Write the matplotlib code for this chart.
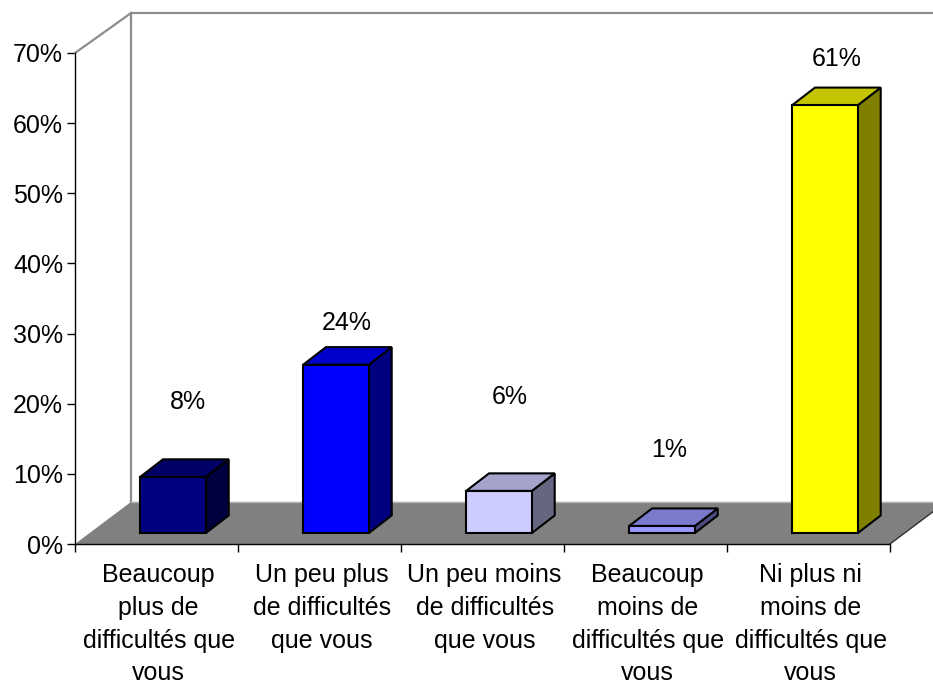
import matplotlib
matplotlib.use("Agg")
import matplotlib.pyplot as plt
from matplotlib.patches import Polygon

plt.rcParams['font.family'] = ['Liberation Sans', 'DejaVu Sans']

categories = [
    "Beaucoup\nplus de\ndifficultés que\nvous",
    "Un peu plus\nde difficultés\nque vous",
    "Un peu moins\nde difficultés\nque vous",
    "Beaucoup\nmoins de\ndifficultés que\nvous",
    "Ni plus ni\nmoins de\ndifficultés que\nvous",
]
values = [8, 24, 6, 1, 61]
value_labels = ["8%", "24%", "6%", "1%", "61%"]
front_colors = ["#000080", "#0000ff", "#ccccff", "#9999ff", "#ffff00"]
top_colors = ["#000066", "#0000cc", "#a3a3cc", "#7a7acc", "#c4c400"]
side_colors = ["#000040", "#000080", "#666680", "#4c4c80", "#808000"]
y_ticks = [0, 10, 20, 30, 40, 50, 60, 70]

# label places in axis units, they sit at odd distances above the bars
label_x = [0.692, 1.668, 2.668, 3.642, 4.674]
label_y = [20.3, 31.5, 21.0, 13.4, 69.15]

# depth of the fake 3d box and of each bar, in axis units
wall_dx, wall_dy = 0.344, 6.0
bar_dx, bar_dy = 0.14, 2.5
bar_left, bar_width = 0.4, 0.403
bar_base = 1.57

fig = plt.figure(figsize=(9.33, 6.86), dpi=100)
ax = fig.add_axes([75 / 933, 142 / 686, 815 / 933, 491 / 686])
ax.set_xlim(0, 5)
ax.set_ylim(0, 70)

# floor and back wall
ax.add_patch(Polygon([(0, 0), (wall_dx, wall_dy), (5 + wall_dx, wall_dy), (5, 0)],
                     closed=True, facecolor="#808080", edgecolor="none", clip_on=False, zorder=1))
ax.plot([wall_dx, wall_dx], [wall_dy, 75.7], color="#8c8c8c", lw=1.6, clip_on=False, zorder=2)
ax.plot([wall_dx, 5 + wall_dx], [75.7, 75.7], color="#8c8c8c", lw=1.6, clip_on=False, zorder=2)
ax.plot([0, wall_dx], [70, 75.7], color="#8c8c8c", lw=1.6, clip_on=False, zorder=2)
ax.plot([wall_dx, 5 + wall_dx], [wall_dy, wall_dy], color="#b0b0b0", lw=1, clip_on=False, zorder=2)
ax.plot([5, 5 + wall_dx], [0, wall_dy], color="#303030", lw=1, clip_on=False, zorder=2)

# bars, three polygons each
for i, v in enumerate(values):
    x0 = i + bar_left
    x1 = x0 + bar_width
    y0 = bar_base
    y1 = bar_base + v
    style = dict(closed=True, edgecolor="black", lw=1.5, joinstyle="miter", zorder=3, clip_on=False)
    ax.add_patch(Polygon([(x1, y0), (x1 + bar_dx, y0 + bar_dy), (x1 + bar_dx, y1 + bar_dy), (x1, y1)],
                         facecolor=side_colors[i], **style))
    ax.add_patch(Polygon([(x0, y1), (x0 + bar_dx, y1 + bar_dy), (x1 + bar_dx, y1 + bar_dy), (x1, y1)],
                         facecolor=top_colors[i], **style))
    ax.add_patch(Polygon([(x0, y0), (x1, y0), (x1, y1), (x0, y1)],
                         facecolor=front_colors[i], **style))
    ax.text(label_x[i], label_y[i], value_labels[i],
            ha="center", va="center", fontsize=18, color="black", zorder=4)

for name in ["top", "right"]:
    ax.spines[name].set_visible(False)
for name in ["left", "bottom"]:
    ax.spines[name].set_linewidth(1)
    ax.spines[name].set_zorder(5)

ax.set_yticks(y_ticks)
ax.set_yticklabels([f"{t}%" for t in y_ticks], fontsize=18)
ax.set_xticks(range(6))
ax.set_xticklabels([])
ax.tick_params(axis="y", length=5.5, width=1, pad=3)
ax.tick_params(axis="x", length=5.5, width=1)

# category names go under the ticks, centred in each slot
for i, name in enumerate(categories):
    ax.annotate(name, xy=(i + 0.5, 0), xycoords="data", xytext=(1.5, -14), textcoords="offset points",
                ha="center", va="top", fontsize=18, linespacing=1.45, annotation_clip=False)

fig.savefig("out.png", dpi=100)
